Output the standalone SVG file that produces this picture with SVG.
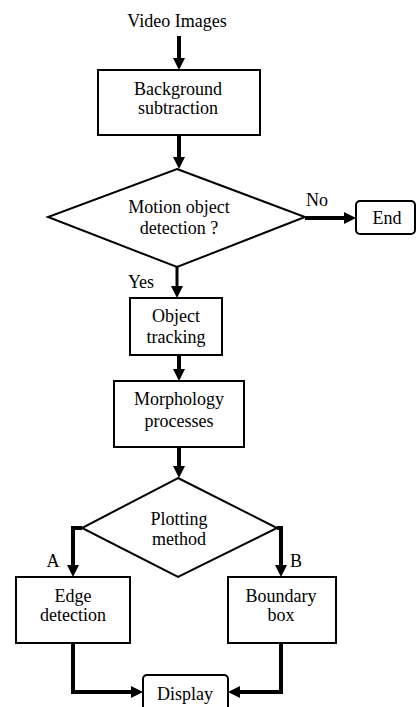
<svg xmlns="http://www.w3.org/2000/svg" width="416" height="707" viewBox="0 0 416 707" font-family="'Liberation Serif', 'Times New Roman', serif" font-size="18">
<style>
text{font-family:'Liberation Serif','Times New Roman',serif;font-size:18px;fill:#000;text-anchor:middle}
.box{fill:#fff;stroke:#000;stroke-width:2}
.con{fill:none;stroke:#000;stroke-width:4}
</style>
<defs>
<marker id="ah" markerUnits="userSpaceOnUse" markerWidth="12" markerHeight="12" refX="4" refY="6" orient="auto">
<path d="M0,0 L12,6 L0,12 z" fill="#000"/>
</marker>
</defs>
<rect width="416" height="707" fill="#fff"/>
<g id="connectors">
<line class="con" x1="179" y1="36" x2="179" y2="62" marker-end="url(#ah)"/>
<line class="con" x1="179" y1="135" x2="179" y2="161" marker-end="url(#ah)"/>
<line class="con" x1="305" y1="218" x2="348" y2="218" marker-end="url(#ah)"/>
<line class="con" x1="177" y1="267" x2="177" y2="290" style="stroke-width:3" marker-end="url(#ah)"/>
<line class="con" x1="179" y1="355" x2="179" y2="373" marker-end="url(#ah)"/>
<line class="con" x1="179" y1="447" x2="179" y2="470" marker-end="url(#ah)"/>
<path class="con" d="M82,528 H73 V569" marker-end="url(#ah)"/>
<path class="con" d="M277,528 H281 V569" marker-end="url(#ah)"/>
<path class="con" d="M73,643 V692 H135" marker-end="url(#ah)"/>
<path class="con" d="M281,643 V692 H236" marker-end="url(#ah)"/>
<text x="317" y="206">No</text>
<text x="141" y="288">Yes</text>
<text x="53" y="567">A</text>
<text x="296" y="567">B</text>
</g>
<g id="input"><text x="177" y="27">Video Images</text></g>
<g id="background">
<rect class="box" x="98" y="70" width="162" height="65"/>
<text x="178" y="95">Background</text>
<text x="178" y="114">subtraction</text>
</g>
<g id="motion">
<polygon class="box" points="177,169 305,217 177,267 48,217"/>
<text x="179" y="213">Motion object</text>
<text x="179" y="234">detection ?</text>
</g>
<g id="end">
<rect class="box" x="356" y="201" width="59" height="33" rx="4"/>
<text x="387" y="224">End</text>
</g>
<g id="tracking">
<rect class="box" x="130" y="298" width="92" height="57"/>
<text x="176" y="322">Object</text>
<text x="176" y="343">tracking</text>
</g>
<g id="morphology">
<rect class="box" x="114" y="381" width="130" height="66"/>
<text x="179" y="405">Morphology</text>
<text x="179" y="427">processes</text>
</g>
<g id="plotting">
<polygon class="box" points="178,478 277,528 178,577 82,528"/>
<text x="179" y="525">Plotting</text>
<text x="179" y="545">method</text>
</g>
<g id="edge">
<rect class="box" x="16" y="577" width="114" height="66"/>
<text x="73" y="602">Edge</text>
<text x="73" y="621">detection</text>
</g>
<g id="boundary">
<rect class="box" x="228" y="577" width="108" height="66"/>
<text x="281" y="602">Boundary</text>
<text x="281" y="621">box</text>
</g>
<g id="display">
<rect class="box" x="143" y="675" width="85" height="40" rx="4"/>
<text x="185" y="700">Display</text>
</g>
</svg>
